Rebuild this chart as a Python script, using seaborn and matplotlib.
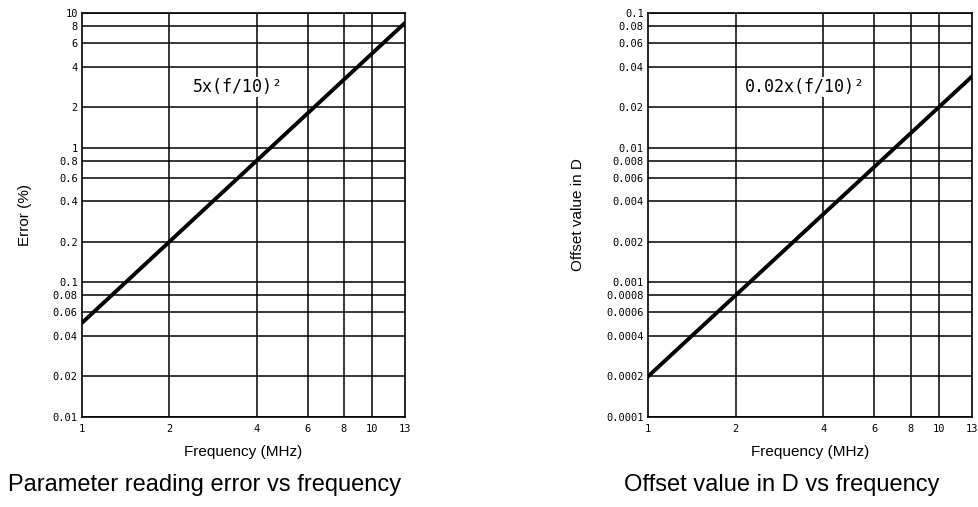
import pandas as pd
import seaborn as sns
import matplotlib
matplotlib.use("Agg")
import matplotlib.pyplot as plt

# Values (straight lines on log-log paper)
freq_mhz = [1, 13]
error_pct = [0.05, 8.45]
offset_d = [0.0002, 0.0338]

x_ticks = [1, 2, 4, 6, 8, 10, 13]
x_grid = [2, 4, 6, 8, 10]

err_ticks = [10, 8, 6, 4, 2, 1, 0.8, 0.6, 0.4, 0.2, 0.1, 0.08, 0.06, 0.04, 0.02, 0.01]
err_labels = ["10", "8", "6", "4", "2", "1", "0.8", "0.6", "0.4", "0.2",
              "0.1", "0.08", "0.06", "0.04", "0.02", "0.01"]
off_ticks = [0.1, 0.08, 0.06, 0.04, 0.02, 0.01, 0.008, 0.006, 0.004, 0.002,
             0.001, 0.0008, 0.0006, 0.0004, 0.0002, 0.0001]
off_labels = ["0.1", "0.08", "0.06", "0.04", "0.02", "0.01", "0.008", "0.006",
              "0.004", "0.002", "0.001", "0.0008", "0.0006", "0.0004", "0.0002", "0.0001"]

sns.set_style("white")
plt.rcParams["font.family"] = ["Liberation Sans", "DejaVu Sans"]
plt.rcParams.update({"text.color": "black", "axes.labelcolor": "black",
                     "xtick.color": "black", "ytick.color": "black"})

fig = plt.figure(figsize=(9.79, 5.07), dpi=100)
W, H = 979, 507


def make_axes(x0, x1, y0=13, y1=417):
    return fig.add_axes([x0 / W, 1 - y1 / H, (x1 - x0) / W, (y1 - y0) / H])


def style_panel(ax, yticks, ylabels, ylim, ylabel, ylabel_x, note, note_xy):
    ax.set_xscale("log")
    ax.set_yscale("log")
    ax.set_xlim(1, 13)
    ax.set_ylim(*ylim)
    ax.minorticks_off()

    # Chart-paper grid
    for v in yticks:
        ax.axhline(v, color="black", lw=1.1, zorder=1)
    for v in x_grid:
        ax.axvline(v, color="black", lw=1.1, zorder=1)

    ax.set_xticks(x_ticks)
    ax.set_xticklabels([str(t) for t in x_ticks], family="DejaVu Sans Mono", fontsize=7.5)
    ax.set_yticks(yticks)
    ax.set_yticklabels(ylabels, family="DejaVu Sans Mono", fontsize=7.5)
    ax.tick_params(length=0, pad=3)
    ax.tick_params(axis="x", pad=5)

    for s in ax.spines.values():
        s.set_color("black")
        s.set_linewidth(1.2)

    ax.set_xlabel("Frequency (MHz)", fontsize=11, labelpad=8)
    ax.set_ylabel(ylabel, fontsize=11)
    ax.yaxis.set_label_coords(ylabel_x, 0.5)

    ax.text(note_xy[0], note_xy[1], note, family="DejaVu Sans Mono", fontsize=12,
            va="center", ha="left", zorder=3,
            bbox=dict(facecolor="white", edgecolor="none", pad=1))


# Left panel: parameter reading error
ax1 = make_axes(82, 405)
df1 = pd.DataFrame({"Frequency": freq_mhz, "Error": error_pct})
sns.lineplot(data=df1, x="Frequency", y="Error", ax=ax1, color="black", lw=2.8, zorder=4)
style_panel(ax1, err_ticks, err_labels, (0.01, 10), "Error (%)", -0.155,
            "5x(f/10)\u00b2", (2.41, 2.82))

# Right panel: offset value in D
ax2 = make_axes(648, 972)
df2 = pd.DataFrame({"Frequency": freq_mhz, "Offset": offset_d})
sns.lineplot(data=df2, x="Frequency", y="Offset", ax=ax2, color="black", lw=2.8, zorder=4)
style_panel(ax2, off_ticks, off_labels, (0.0001, 0.1), "Offset value in D", -0.195,
            "0.02x(f/10)\u00b2", (2.16, 0.0282))

fig.text(205 / W, 1 - 485 / H, "Parameter reading error vs frequency",
         fontsize=17, ha="center", va="center")
fig.text(782 / W, 1 - 485 / H, "Offset value in D vs frequency",
         fontsize=17, ha="center", va="center")

fig.savefig("out.png", dpi=100)
